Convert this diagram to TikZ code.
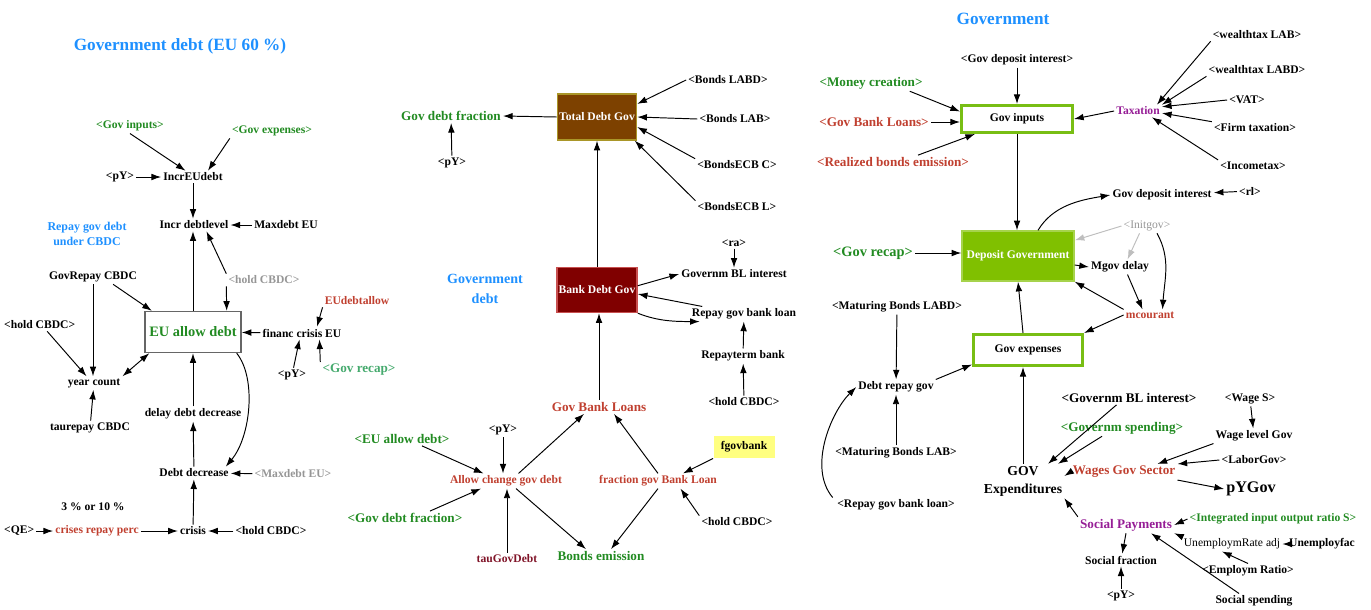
\documentclass[tikz,border=0pt]{standalone}
\usepackage{fontspec}
\setmainfont{Liberation Serif}
\usetikzlibrary{arrows.meta}
\definecolor{ttlblue}{RGB}{30,144,255}
\definecolor{vgreen}{RGB}{34,139,34}
\definecolor{ltgreen}{RGB}{70,170,110}
\definecolor{brick}{RGB}{192,64,48}
\definecolor{taured}{RGB}{128,20,40}
\definecolor{purp}{RGB}{150,30,150}
\definecolor{grayt}{RGB}{150,150,150}
\definecolor{grayl}{RGB}{190,190,190}
\definecolor{tdgbrown}{RGB}{125,65,0}
\definecolor{tdgedge}{RGB}{170,150,40}
\definecolor{bdgred}{RGB}{128,0,0}
\definecolor{bdgedge}{RGB}{200,80,80}
\definecolor{depgreen}{RGB}{128,192,0}
\definecolor{bordgreen}{RGB}{120,190,20}
\definecolor{fgyellow}{RGB}{255,255,128}
\begin{document}
\begin{tikzpicture}[x=0.02cm,y=-0.02cm,line width=0.55pt,>={Latex[length=5.5pt,width=3.8pt]},
    lbl/.style={font=\fontsize{6.6}{7.4}\selectfont\bfseries,inner sep=1pt},
    lblm/.style={font=\fontsize{7.5}{8.4}\selectfont\bfseries,inner sep=1pt},
    lbll/.style={font=\fontsize{8.2}{9.2}\selectfont\bfseries,inner sep=1pt},
    ttl/.style={font=\fontsize{9.8}{11}\selectfont\bfseries,text=ttlblue,align=center,inner sep=1pt},
    box/.style={lbl,draw,line width=0.8pt,text=white},
    gbox/.style={lbl,draw=bordgreen,line width=1.7pt,fill=white}]
    \useasboundingbox (0,0) rectangle (1371,609);
    %
    \node[ttl] (ttlA) at (180,46) {Government debt (EU 60 \%)};
    \node[lbl,text=vgreen] (gInA) at (130,126) {<Gov inputs>};
    \node[lbl,text=vgreen] (gExA) at (272,131) {<Gov expenses>};
    \node[lbl] (pYa) at (120,177) {<pY>};
    \node[lbl] (incrEU) at (193,177) {IncrEUdebt};
    \node[lbl] (incrLev) at (194,225) {Incr debtlevel};
    \node[lbl] (maxEU) at (286,225) {Maxdebt EU};
    \node[lbl,text=ttlblue,align=center,font=\fontsize{6.8}{8.5}\selectfont\bfseries] (repNote) at (87,234) {Repay gov debt\\under CBDC};
    \node[lbl] (govRep) at (93,277) {GovRepay CBDC};
    \node[lbl,text=grayt] (holdA) at (264,280) {<hold CBDC>};
    \node[lbl,text=brick] (euDA) at (357,301) {EUdebtallow};
    \node[lbll,draw=gray!80!black,line width=0.8pt,fill=white,text=vgreen,minimum width=1.92cm,minimum height=0.82cm] (euAllow) at (193,332) {EU allow debt};
    \node[lbl] (finEU) at (302,333) {financ crisis EU};
    \node[lbl,anchor=west] (holdB) at (2,325) {<hold CBDC>};
    \node[lbl] (pYb) at (292,375) {<pY>};
    \node[lblm,text=ltgreen] (recapA) at (359,370) {<Gov recap>};
    \node[lbl] (yearCnt) at (94,383) {year count};
    \node[lbl] (delayDD) at (193,414) {delay debt decrease};
    \node[lbl] (tauRep) at (90,428) {taurepay CBDC};
    \node[lbl] (pctNote) at (93,507) {3 \% or 10 \%};
    \node[lbl] (debtDec) at (194,473) {Debt decrease};
    \node[lbl,text=grayt] (maxEU2) at (293,474) {<Maxdebt EU>};
    \node[lbl,anchor=west] (qeA) at (2,531) {<QE>};
    \node[lbl,text=brick] (crisRep) at (97,531) {crises repay perc};
    \node[lbl] (crisis) at (193,531) {crisis};
    \node[lbl] (holdC) at (271,531) {<hold CBDC>};
    %
    \draw[->] (gInA.south) -- ([xshift=-0.15cm]incrEU.north);
    \draw[->] (gExA.south west) -- ([xshift=0.3cm]incrEU.north);
    \draw[->] (pYa) -- (incrEU);
    \draw[->] (incrEU) -- (incrEU |- incrLev.north);
    \draw[->] (maxEU) -- (incrLev);
    \draw[->] (euAllow.north) -- (euAllow.north |- incrLev.south);
    \draw[->] (holdA.north west) -- ([xshift=0.25cm]incrLev.south);
    \draw[->] (holdA.south west) -- ([xshift=-0.3cm]euAllow.north east);
    \draw[->] (govRep.-20) -- ([xshift=0.15cm]euAllow.north west);
    \draw[->] (govRep) -- (govRep |- yearCnt.north);
    \draw[->] ([xshift=0.15cm]holdB.south) -- ([xshift=-0.15cm]yearCnt.north);
    \draw[<->] (yearCnt.north east) -- ([xshift=0.1cm]euAllow.south west);
    \draw[->] (tauRep) -- (yearCnt);
    \draw[->] (finEU) -- (euAllow);
    \draw[->] (euDA.south west) -- ([xshift=0.3cm]finEU.north);
    \draw[->] (pYb) -- ([xshift=-0.05cm]finEU.south);
    \draw[->] (recapA.north west) -- ([xshift=0.35cm]finEU.south);
    \draw[->] ([xshift=-0.1cm]euAllow.south east) .. controls +(20,25) and +(25,-30) .. ([xshift=-0.1cm]debtDec.north east);
    \draw[->] (delayDD) -- (delayDD |- euAllow.south);
    \draw[->] (debtDec) -- (delayDD);
    \draw[->] (maxEU2) -- (debtDec);
    \draw[->] (crisis) -- (debtDec);
    \draw[->] (crisRep) -- (crisis);
    \draw[->] (holdC) -- (crisis);
    \draw[->] (qeA) -- (crisRep);
    %
    \node[box,fill=tdgbrown,draw=tdgedge,minimum width=1.58cm,minimum height=0.92cm] (tdg) at (597,117) {Total Debt Gov};
    \node[lblm,text=vgreen] (gdf) at (451,116) {Gov debt fraction};
    \node[lbl] (pYm) at (452,163) {<pY>};
    \node[lbl] (bLABD) at (728,80) {<Bonds LABD>};
    \node[lbl] (bLAB) at (735,119) {<Bonds LAB>};
    \node[lbl] (bECBC) at (737,165) {<BondsECB C>};
    \node[lbl] (bECBL) at (737,207) {<BondsECB L>};
    \node[ttl,font=\fontsize{8}{11.3}\selectfont\bfseries] (ttlB) at (485,289) {Government\\debt};
    \node[box,fill=bdgred,draw=bdgedge,minimum width=1.58cm,minimum height=0.9cm] (bdg) at (597,290) {Bank Debt Gov};
    \node[lbl] (raM) at (734,243) {<ra>};
    \node[lbl] (gbli) at (734,274) {Governm BL interest};
    \node[lbl] (rgbl) at (744,314) {Repay gov bank loan};
    \node[lbl] (rtb) at (743,356) {Repayterm bank};
    \node[lbl] (holdM) at (744,402) {<hold CBDC>};
    \node[lblm,text=brick] (gbl) at (599,407) {Gov Bank Loans};
    \node[lbl] (pYm2) at (503,430) {<pY>};
    \node[lbl,fill=fgyellow,minimum width=1.22cm,minimum height=0.44cm] (fgb) at (744,447) {fgovbank};
    \node[lblm,text=vgreen] (euAD) at (402,439) {<EU allow debt>};
    \node[lbl,text=brick] (acgd) at (506,481) {Allow change gov debt};
    \node[lbl,text=brick] (fgbl) at (658,481) {fraction gov Bank Loan};
    \node[lblm,text=vgreen] (gdfr) at (405,518) {<Gov debt fraction>};
    \node[lbl] (holdM2) at (737,522) {<hold CBDC>};
    \node[lbl,text=taured] (tau) at (507,559) {tauGovDebt};
    \node[lblm,text=vgreen] (bem) at (601,556) {Bonds emission};
    %
    \draw[->] (tdg.west) -- (gdf.east);
    \draw[->] (pYm) -- (gdf);
    \draw[->] (bLABD.west) -- (tdg.18);
    \draw[->] (bLAB.west) -- (tdg.east);
    \draw[->] (bECBC.north west) -- (tdg.-14);
    \draw[->] (bECBL.north west) -- ([xshift=-0.05cm]tdg.south east);
    \draw[->] (bdg.north) -- (tdg.south);
    \draw[->] (gbl.north) -- (gbl.north |- bdg.south);
    \draw[->] (bdg.6) -- (gbli.west);
    \draw[->] ([xshift=0.25cm]rgbl.north west) -- ([yshift=-0.08cm]bdg.east);
    \draw[->] (bdg.south east) .. controls +(20,8) and +(-25,0) .. ([xshift=0.2cm]rgbl.south west);
    \draw[->] (raM) -- (gbli);
    \draw[->] (rtb) -- (rgbl);
    \draw[->] (holdM) -- (rtb);
    \draw[->] ([xshift=0.25cm]acgd.north) -- ([xshift=-0.3cm]gbl.south);
    \draw[->] (fgbl.north) -- ([xshift=0.3cm]gbl.south);
    \draw[->] ([xshift=0.2cm]acgd.south) -- ([xshift=-0.3cm]bem.north);
    \draw[->] (fgbl.south) -- ([xshift=0.2cm]bem.north);
    \draw[->] (pYm2) -- (pYm2 |- acgd.north);
    \draw[->] (tau) -- (tau |- acgd.south);
    \draw[->] ([xshift=0.4cm]euAD.south) -- ([xshift=-0.45cm]acgd.north);
    \draw[->] ([xshift=0.5cm]gdfr.north) -- ([xshift=-0.5cm]acgd.south);
    \draw[->] (fgb.south west) -- ([xshift=0.5cm]fgbl.north);
    \draw[->] (holdM2.north west) -- ([xshift=0.45cm]fgbl.south);
    %
    \node[ttl] (ttlC) at (1003,19) {Government};
    \node[lbl] (gdiIn) at (1017,60) {<Gov deposit interest>};
    \node[lblm,text=vgreen] (mcr) at (871,83) {<Money creation>};
    \node[lblm,text=brick] (gblR) at (874,122) {<Gov Bank Loans>};
    \node[lblm,text=brick] (rbe) at (893,162) {<Realized bonds emission>};
    \node[gbox,minimum width=2.22cm,minimum height=0.54cm] (gin) at (1017,119) {Gov inputs};
    \node[lbl,text=purp] (tax) at (1138,111) {Taxation};
    \node[lbl] (wLAB) at (1257,35) {<wealthtax LAB>};
    \node[lbl] (wLABD) at (1257,70) {<wealthtax LABD>};
    \node[lbl] (vat) at (1247,100) {<VAT>};
    \node[lbl] (firmT) at (1255,128) {<Firm taxation>};
    \node[lbl] (incT) at (1253,166) {<Incometax>};
    \node[lbl] (gdi) at (1162,195) {Gov deposit interest};
    \node[lbl] (rlR) at (1250,191) {<rl>};
    \node[lbl,text=grayt,font=\fontsize{6.6}{7.4}\selectfont] (init) at (1147,226) {<Initgov>};
    \node[lbll,text=vgreen] (recapR) at (873,253) {<Gov recap>};
    \node[box,fill=depgreen,draw=depgreen!70!white,minimum width=2.24cm,minimum height=1cm] (dep) at (1018,256) {Deposit Government};
    \node[lbl] (mgov) at (1120,267) {Mgov delay};
    \node[lbl,text=brick] (mcour) at (1150,315) {mcourant};
    \node[lbl] (mbLABD) at (897,307) {<Maturing Bonds LABD>};
    \node[gbox,minimum width=2.18cm,minimum height=0.62cm] (gexp) at (1028,350) {Gov expenses};
    \node[lbl] (drg) at (896,387) {Debt repay gov};
    \node[lblm] (gbliR) at (1129,398) {<Governm BL interest>};
    \node[lbl] (wageS) at (1250,399) {<Wage S>};
    \node[lblm,text=vgreen] (gsp) at (1122,428) {<Governm spending>};
    \node[lbl] (wlg) at (1254,436) {Wage level Gov};
    \node[lbl] (mbLAB) at (896,453) {<Maturing Bonds LAB>};
    \node[lbl] (labor) at (1254,460) {<LaborGov>};
    \node[lblm,align=center,font=\fontsize{7.8}{10.2}\selectfont\bfseries] (gExp) at (1023,481) {GOV\\Expenditures};
    \node[lblm,text=brick] (wgs) at (1124,472) {Wages Gov Sector};
    \node[lbll,font=\fontsize{9.2}{10}\selectfont\bfseries] (pyg) at (1251,489) {pYGov};
    \node[lbl] (rgblR) at (896,505) {<Repay gov bank loan>};
    \node[lblm,text=purp] (soc) at (1126,525) {Social Payments};
    \node[lbl,text=vgreen] (integ) at (1273,519) {<Integrated input output ratio S>};
    \node[lbl,font=\fontsize{6.6}{7.4}\selectfont] (unadj) at (1232,544) {UnemploymRate adj};
    \node[lbl] (unfac) at (1322,544) {Unemployfac};
    \node[lbl] (sfrac) at (1121,560) {Social fraction};
    \node[lbl] (empR) at (1248,571) {<Employm Ratio>};
    \node[lbl] (pYR) at (1121,596) {<pY>};
    \node[lbl] (ssp) at (1254,601) {Social spending};
    %
    \draw[->] (gdiIn) -- (gdiIn |- gin.north);
    \draw[->] (mcr.-12) -- ([yshift=-0.15cm]gin.north west);
    \draw[->] (gblR) -- (gblR -| gin.west);
    \draw[->] ([xshift=0.5cm]rbe.north) -- ([xshift=0.3cm]gin.south west);
    \draw[->] (tax.west) -- (gin.east);
    \draw[->] (wLAB.south west) -- ([xshift=-0.1cm]tax.north east);
    \draw[->] (wLABD.south west) -- (tax.north east);
    \draw[->] (vat.west) -- (tax.10);
    \draw[->] (firmT.north west) -- (tax.-5);
    \draw[->] (incT.north west) -- ([xshift=-0.2cm]tax.south east);
    \draw[->] (gin.south) -- (gin.south |- dep.north);
    \draw[->] ([xshift=0.4cm]dep.north) .. controls +(15,-25) and +(-30,5) .. (gdi.west);
    \draw[->] (rlR) -- (gdi);
    \draw[->,grayl] (init.west) -- ([yshift=-0.2cm]dep.north east);
    \draw[->,grayl] ([xshift=-0.15cm]init.south) -- ([xshift=0.15cm]mgov.north);
    \draw[->] ([xshift=0.2cm]init.south) .. controls +(14,25) and +(2,-30) .. ([xshift=0.25cm]mcour.north);
    \draw[->] (recapR) -- (recapR -| dep.west);
    \draw[->] ([yshift=-0.18cm]dep.east) -- (mgov.west);
    \draw[->] ([xshift=0.15cm]mgov.south) -- ([xshift=-0.15cm]mcour.north);
    \draw[->] (mcour.north west) -- (dep.south east);
    \draw[->] (mcour.west) -- (gexp.north east);
    \draw[->] ([xshift=-0.1cm]gexp.north) -- (dep.south);
    \draw[->] (drg.north east) -- ([yshift=0.05cm]gexp.south west);
    \draw[->] (mbLABD) -- (drg);
    \draw[->] (mbLAB) -- (drg);
    \draw[->] ([xshift=-0.05cm]rgblR.north west) .. controls +(-25,-30) and +(-25,25) .. (drg.west);
    \draw[->] (gExp.north) -- (gExp.north |- gexp.south);
    \draw[->] ([xshift=-0.25cm]gbliR.south) -- ([xshift=0.5cm]gExp.north);
    \draw[->] ([xshift=-0.4cm]gsp.south) -- ([xshift=0.7cm]gExp.north);
    \draw[->] (wgs.west) -- ([yshift=0.1cm]gExp.east);
    \draw[->] (soc.north west) -- (gExp.south east);
    \draw[->] (wageS) -- (wlg);
    \draw[->] (wlg.south west) -- ([xshift=-0.4cm]wgs.north east);
    \draw[->] (labor.west) -- (wgs.north east);
    \draw[->] (wgs.south east) -- (pyg.west);
    \draw[->] (integ.west) -- (soc.east);
    \draw[->] (unadj.north west) -- (soc.south east);
    \draw[->] (unfac) -- (unadj);
    \draw[->] (empR.north) -- ([xshift=-0.2cm]unadj.south);
    \draw[->] (soc.south) -- (sfrac);
    \draw[->] (pYR) -- (sfrac);
    \draw[->] ([xshift=-0.3cm]ssp.north) -- ([xshift=0.5cm]soc.south);
\end{tikzpicture}
\end{document}
